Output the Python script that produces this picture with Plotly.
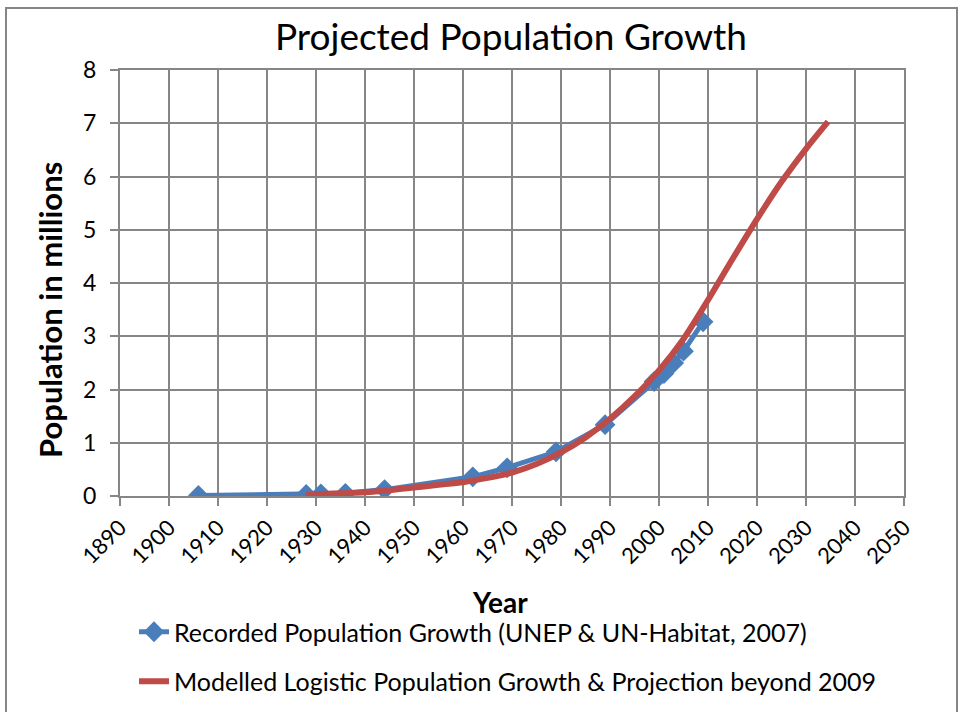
import plotly.graph_objects as go

# Recorded population (millions) by census year
rec_years = [1906, 1928, 1931, 1936, 1944, 1962, 1969, 1979, 1989, 1999, 2001, 2003, 2005, 2009]
rec_pop = [0.01, 0.03, 0.04, 0.05, 0.12, 0.36, 0.53, 0.83, 1.34, 2.15, 2.30, 2.50, 2.72, 3.27]

# Logistic model curve and projection (millions)
model_years = [1928, 1935, 1940, 1945, 1950, 1955, 1960, 1965, 1970, 1975, 1980, 1985,
               1990, 1995, 2000, 2005, 2010, 2015, 2020, 2025, 2030, 2034.5]
model_pop = [0.03, 0.05, 0.07, 0.11, 0.16, 0.21, 0.26, 0.34, 0.44, 0.60, 0.82, 1.10,
             1.45, 1.87, 2.36, 2.95, 3.68, 4.45, 5.20, 5.90, 6.52, 7.03]

x_ticks = list(range(1890, 2051, 10))
y_ticks = list(range(0, 9))

FONT = "Lato"
GRID = "#868686"
BLUE = "#4A7EBB"
RED = "#BE4B48"

# Figure geometry (pixels): the paper area runs from the top margin to the bottom edge,
# and the y axis occupies only its upper part so the legend fits underneath.
W, H = 963, 712
TOP, LEFT, RIGHT = 70, 120, 59
PLOT_BOTTOM = 496
PAPER_H = H - TOP


def py(pixel_y):
    """Convert a pixel row into a paper-y fraction."""
    return (H - pixel_y) / PAPER_H


def px(pixel_x):
    """Convert a pixel column into a paper-x fraction."""
    return (pixel_x - LEFT) / (W - LEFT - RIGHT)


fig = go.Figure()

fig.add_trace(go.Scatter(
    x=rec_years, y=rec_pop, mode="lines+markers",
    name="Recorded Population Growth (UNEP & UN-Habitat, 2007)",
    line=dict(color=BLUE, width=5),
    marker=dict(symbol="diamond", size=16, color=BLUE),
    legendgroup="a",
))

fig.add_trace(go.Scatter(
    x=model_years, y=model_pop, mode="lines",
    name="Modelled Logistic Population Growth & Projection beyond 2009",
    line=dict(color=RED, width=6, shape="spline", smoothing=0.8),
    legendgroup="b",
))

fig.update_layout(
    width=W, height=H,
    margin=dict(l=LEFT, r=RIGHT, t=TOP, b=0),
    paper_bgcolor="white", plot_bgcolor="white",
    font=dict(family=FONT, color="black"),
    title=dict(text="Projected Population Growth", x=px(511), xref="paper",
               xanchor="center", y=1 - 37 / H, yref="container", yanchor="middle",
               font=dict(size=37, family=FONT, color="black")),
    showlegend=True,
    legend=dict(x=px(134), xanchor="left", y=py(609), yanchor="top",
                font=dict(size=25, family=FONT, color="black"),
                tracegroupgap=14, bgcolor="rgba(0,0,0,0)"),
    annotations=[
        dict(text="<b>Year</b>", xref="paper", yref="paper", x=px(500), y=py(602),
             xanchor="center", yanchor="middle", showarrow=False,
             font=dict(size=28, family=FONT, color="black")),
        dict(text="<b>Population in millions</b>", xref="paper", yref="paper",
             x=px(50), y=py(310), xanchor="center", yanchor="middle", textangle=-90,
             showarrow=False, font=dict(size=31, family=FONT, color="black")),
    ],
    shapes=[dict(type="rect", xref="paper", yref="paper",
                 x0=px(6), x1=px(957), y0=py(730), y1=py(8),
                 line=dict(color=GRID, width=2), fillcolor="rgba(0,0,0,0)",
                 layer="below")],
)

fig.update_xaxes(
    range=[1890, 2050], tickmode="array", tickvals=x_ticks,
    ticktext=[str(v) for v in x_ticks], tickangle=-45,
    tickfont=dict(size=22, family=FONT, color="black"),
    showgrid=True, gridcolor=GRID, gridwidth=2,
    showline=True, linecolor=GRID, linewidth=2, mirror=True,
    ticks="outside", ticklen=8, tickcolor=GRID, tickwidth=2,
    zeroline=False, automargin=False,
)

fig.update_yaxes(
    range=[0, 8], tickmode="array", tickvals=y_ticks,
    ticktext=[str(v) for v in y_ticks],
    domain=[py(PLOT_BOTTOM), 1],
    tickfont=dict(size=23, family=FONT, color="black"),
    showgrid=True, gridcolor=GRID, gridwidth=2,
    showline=True, linecolor=GRID, linewidth=2, mirror=True,
    ticks="outside", ticklen=8, tickcolor=GRID, tickwidth=2,
    ticklabelstandoff=9, zeroline=False, automargin=False,
)

fig.write_html("out.html")
